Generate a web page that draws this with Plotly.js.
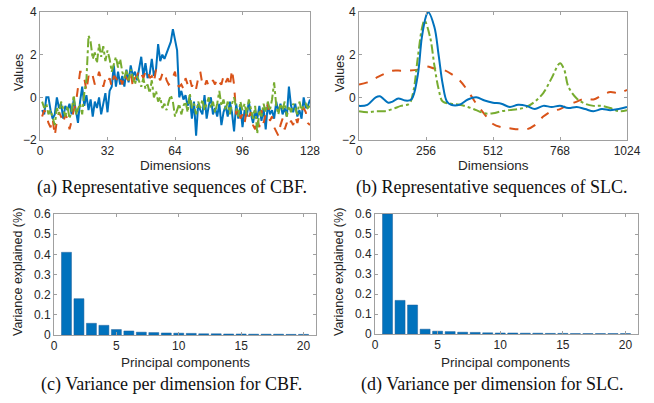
<!DOCTYPE html>
<html>
<head>
<meta charset="utf-8">
<script src="https://cdn.plot.ly/plotly-3.0.1.min.js"></script>
<style>html,body{margin:0;padding:0;background:#fff;}#chart{width:654px;height:403px;}</style>
</head>
<body>
<div id="chart"></div>
<script>
// ---------- CBF representative sequences (dims 1..128) ----------
const cbfDims = Array.from({length: 128}, (_, i) => i + 1);
const cbfBlue = [-0.6,-0.8,0.0,0.0,-0.6,-1.0,-0.8,0.0,-0.5,-0.3,-1.0,-0.4,-0.6,-0.3,-0.8,-0.1,-0.6,-1.2,-0.2,0.5,
-0.4,0.1,-0.6,-0.1,-0.9,-0.2,-0.5,0.0,-0.8,-0.3,0.2,-0.7,0.3,0.5,1.5,0.5,1.2,0.6,1.0,0.5,
1.3,0.7,1.5,1.0,1.2,0.8,1.4,1.9,1.0,1.6,0.9,1.1,1.8,1.0,1.3,2.5,1.7,2.0,1.8,2.1,
2.4,2.6,3.2,2.6,2.2,0.0,0.3,-0.1,0.1,-0.4,0.0,-1.0,-0.2,-1.8,-0.3,-0.6,-0.8,0.1,-1.0,-0.4,
0.0,-0.8,-0.5,-0.9,-0.3,-1.3,-0.7,-0.4,-0.9,-0.2,-0.7,-1.6,-0.3,-1.0,-0.4,-1.4,-0.6,-0.9,-0.2,-0.8,
-1.2,-0.6,-1.0,-0.4,-1.1,-0.5,-1.5,-0.3,-0.8,-0.6,-1.0,-0.2,-0.7,-0.3,-0.8,-0.5,-0.9,0.5,-0.4,-0.7,
-0.3,-0.9,-0.6,-1.0,0.0,-0.5,-0.4,-0.1];
const cbfOrange = [-0.9,-0.6,-0.8,-1.2,-1.4,-1.0,-1.8,-1.1,-0.7,-0.9,-1.2,-0.8,-1.0,-1.5,-1.1,-0.6,-0.3,0.5,1.2,1.2,
0.9,0.3,1.0,0.8,1.0,0.6,0.8,1.2,0.9,0.5,0.9,0.7,0.9,0.5,1.0,0.9,0.7,0.9,0.6,1.1,
0.9,0.8,1.2,0.5,0.9,1.0,1.3,1.1,0.9,1.2,1.3,0.9,1.0,0.7,1.3,1.0,0.8,1.1,1.2,0.8,
0.6,0.7,1.0,1.2,0.6,0.5,0.6,0.4,0.9,0.6,0.9,0.5,0.7,0.4,0.9,1.2,0.6,0.5,0.8,0.5,
0.6,0.8,0.6,0.9,0.7,0.6,1.0,0.7,0.9,0.5,1.3,0.6,-0.8,-0.5,-1.0,-0.8,-1.2,-0.6,-0.9,-0.7,
-1.3,-1.5,-1.0,-1.4,-0.6,-1.2,-0.8,-0.3,-1.1,-0.9,-1.4,-1.6,-1.8,-1.3,-1.0,-1.5,-1.2,-1.4,-1.1,-1.3,
-0.9,-1.2,-0.8,-0.6,-0.5,-0.7,-1.2,-1.3];
const cbfGreen = [-0.2,-0.5,-0.3,-0.8,-0.6,-1.0,-1.3,-0.5,-0.8,-0.2,-0.5,-0.9,-0.4,-1.0,-0.6,0.1,-0.8,-0.5,-0.3,-0.8,
0.2,0.8,2.9,2.6,1.8,2.1,1.6,2.5,1.9,2.4,1.7,2.2,1.8,1.2,1.5,1.9,1.4,1.8,1.2,0.9,
1.3,0.8,1.3,1.0,0.6,1.0,0.7,0.5,0.9,0.4,0.6,0.2,0.8,0.0,0.3,-0.2,0.0,-0.5,-0.3,-0.6,
-0.2,0.1,-0.2,-0.9,-0.6,-0.3,-0.8,-0.4,-0.2,-0.7,0.2,-0.5,-0.3,-0.8,-0.2,-0.5,-0.1,-0.6,-0.3,0.0,
-0.5,-0.2,-0.7,-0.3,0.3,-0.4,-0.1,-0.6,-0.2,-0.8,-0.3,0.0,-0.5,-0.9,-0.2,-0.6,-0.3,-0.8,-0.1,-0.5,
-1.0,-0.4,-1.7,-0.6,-0.9,-0.3,-0.7,-0.2,-0.6,-0.1,0.7,-0.4,-0.8,-0.3,-0.6,-0.2,-0.9,-0.4,-0.7,-0.3,
-0.5,-0.8,-0.2,-0.6,-0.4,-0.3,-0.5,-0.4];

// ---------- SLC representative sequences ----------
const slcBlueX = [0,32,64,80,96,112,128,150,176,200,224,240,256,264,288,304,320,336,352,384,416,448,480,512,544,576,608,640,672,704,736,768,800,832,864,896,928,960,992,1024];
const slcBlueY = [-0.4,-0.35,0.0,0.05,-0.1,-0.25,-0.2,-0.05,-0.15,-0.1,1.0,2.8,3.8,4.0,3.3,2.0,0.6,-0.2,-0.35,-0.35,-0.1,0.0,-0.15,-0.25,-0.3,-0.45,-0.35,-0.4,-0.55,-0.4,-0.45,-0.4,-0.5,-0.45,-0.55,-0.65,-0.55,-0.6,-0.55,-0.45];
const slcGreenX = [0,32,64,96,128,160,192,208,224,240,250,272,288,304,320,352,384,416,448,480,512,544,576,608,640,672,704,736,768,784,800,832,864,896,928,960,992,1024];
const slcGreenY = [-0.65,-0.7,-0.65,-0.65,-0.55,-0.4,-0.3,0.3,1.8,3.2,3.6,2.8,1.5,0.4,-0.2,-0.3,-0.35,-0.45,-0.6,-0.75,-0.75,-0.65,-0.6,-0.55,-0.45,-0.2,0.2,0.9,1.6,1.3,0.5,-0.05,-0.3,-0.4,-0.4,-0.5,-0.65,-0.6];
const slcOrangeX = [0,32,64,96,128,160,192,224,256,288,320,352,384,416,448,480,512,544,576,608,640,672,704,736,768,800,832,864,896,928,960,992,1024];
const slcOrangeY = [0.6,0.7,0.9,1.1,1.25,1.25,1.25,1.3,1.45,1.35,1.3,1.1,0.8,0.3,-0.3,-0.8,-1.25,-1.4,-1.45,-1.5,-1.5,-1.3,-0.9,-0.65,-0.55,-0.35,-0.2,-0.05,-0.1,0.1,0.25,0.2,0.35];

// ---------- Variance explained per principal component ----------
const pcIndex = Array.from({length: 20}, (_, i) => i + 1);
const cbfVariance = [0.41,0.18,0.058,0.048,0.027,0.02,0.014,0.012,0.01,0.009,0.008,0.006,0.006,0.005,0.005,0.004,0.004,0.004,0.003,0.003];
const slcVariance = [0.60,0.168,0.145,0.024,0.014,0.012,0.009,0.008,0.006,0.005,0.005,0.004,0.004,0.003,0.003,0.002,0.002,0.002,0.002,0.002];

// ---------- Text ----------
const captions = ["(a) Representative sequences of CBF.","(b) Representative sequences of SLC.","(c) Variance per dimension for CBF.","(d) Variance per dimension for SLC."];
const seqXTitle = "Dimensions", seqYTitle = "Values";
const pcXTitle = "Principal components", pcYTitle = "Variance explained (%)";

const BLUE = '#0072BD', ORANGE = '#D95319', GREEN = '#77AC30';
const W = 654, H = 403;

function line(x, y, color, dash, xa, ya, shape) {
  return {x: x, y: y, type: 'scatter', mode: 'lines', xaxis: xa, yaxis: ya,
    line: {color: color, width: 2, dash: dash, shape: shape || 'linear', smoothing: 1}, hoverinfo: 'skip'};
}

const traces = [
  line(cbfDims, cbfBlue, BLUE, 'solid', 'x', 'y'),
  line(cbfDims, cbfOrange, ORANGE, 'dash', 'x', 'y'),
  line(cbfDims, cbfGreen, GREEN, 'dashdot', 'x', 'y'),
  line(slcOrangeX, slcOrangeY, ORANGE, 'dash', 'x2', 'y2', 'spline'),
  line(slcGreenX, slcGreenY, GREEN, 'dashdot', 'x2', 'y2', 'spline'),
  line(slcBlueX, slcBlueY, BLUE, 'solid', 'x2', 'y2', 'spline'),
  {x: pcIndex, y: cbfVariance, type: 'bar', xaxis: 'x3', yaxis: 'y3', width: 0.8,
   marker: {color: BLUE, line: {color: '#1f5f99', width: 0.5}}},
  {x: pcIndex, y: slcVariance, type: 'bar', xaxis: 'x4', yaxis: 'y4', width: 0.8,
   marker: {color: BLUE, line: {color: '#1f5f99', width: 0.5}}}
];

const tickFont = {family: 'Liberation Sans, Arial, sans-serif', size: 12, color: '#262626'};
const LINEC = '#a0a0a0';
function ax(domain, range, tickvals, anchor, extra) {
  return Object.assign({domain: domain, range: range, tickvals: tickvals, anchor: anchor,
    showline: true, mirror: 'ticks', linecolor: LINEC, linewidth: 1,
    ticks: 'inside', ticklen: 3, tickcolor: LINEC, showgrid: false, zeroline: false,
    tickfont: tickFont, fixedrange: true, automargin: false}, extra || {});
}
function px(a, b) { return [a / W, b / W]; }
function py(top, bottom) { return [1 - bottom / H, 1 - top / H]; }

const layout = {
  width: W, height: H, margin: {l: 0, r: 0, t: 0, b: 0},
  paper_bgcolor: '#fff', plot_bgcolor: '#fff', showlegend: false,
  xaxis: ax(px(40, 310), [0, 128], [0, 32, 64, 96, 128], 'y'),
  yaxis: ax(py(12, 140), [-2, 4], [-2, 0, 2, 4], 'x'),
  xaxis2: ax(px(359, 627), [0, 1024], [0, 256, 512, 768, 1024], 'y2'),
  yaxis2: ax(py(12, 140), [-2, 4], [-2, 0, 2, 4], 'x2'),
  xaxis3: ax(px(54, 316), [0, 21], [0, 5, 10, 15, 20], 'y3'),
  yaxis3: ax(py(214, 335), [0, 0.6], [0, 0.1, 0.2, 0.3, 0.4, 0.5, 0.6], 'x3'),
  xaxis4: ax(px(375, 638), [0, 21], [0, 5, 10, 15, 20], 'y4'),
  yaxis4: ax(py(214, 334), [0, 0.6], [0, 0.1, 0.2, 0.3, 0.4, 0.5, 0.6], 'x4'),
  annotations: []
};

const xlabFont = {family: 'Liberation Sans, Arial, sans-serif', size: 13.5, color: '#262626'};
const ylabFont = {family: 'Liberation Sans, Arial, sans-serif', size: 12.5, color: '#262626'};
const capFont = {family: 'Liberation Serif, Times New Roman, serif', size: 18, color: '#111'};
function ann(text, x, y, font, angle) {
  return {text: text, x: x / W, y: 1 - y / H, xref: 'paper', yref: 'paper',
    xanchor: 'center', yanchor: 'middle', showarrow: false, font: font, textangle: angle || 0};
}
layout.annotations.push(
  ann(seqXTitle, 175, 165, xlabFont), ann(seqYTitle, 19, 73, ylabFont, -90),
  ann(seqXTitle, 493, 165, xlabFont), ann(seqYTitle, 340, 73, ylabFont, -90),
  ann(pcXTitle, 185, 362, xlabFont), ann(pcYTitle, 18, 272, ylabFont, -90),
  ann(pcXTitle, 506, 362, xlabFont), ann(pcYTitle, 339, 272, ylabFont, -90),
  ann(captions[0], 172, 187, capFont), ann(captions[1], 491, 187, capFont),
  ann(captions[2], 171, 384, capFont), ann(captions[3], 492, 384, capFont)
);

Plotly.newPlot('chart', traces, layout, {displayModeBar: false, staticPlot: true});
</script>
</body>
</html>
